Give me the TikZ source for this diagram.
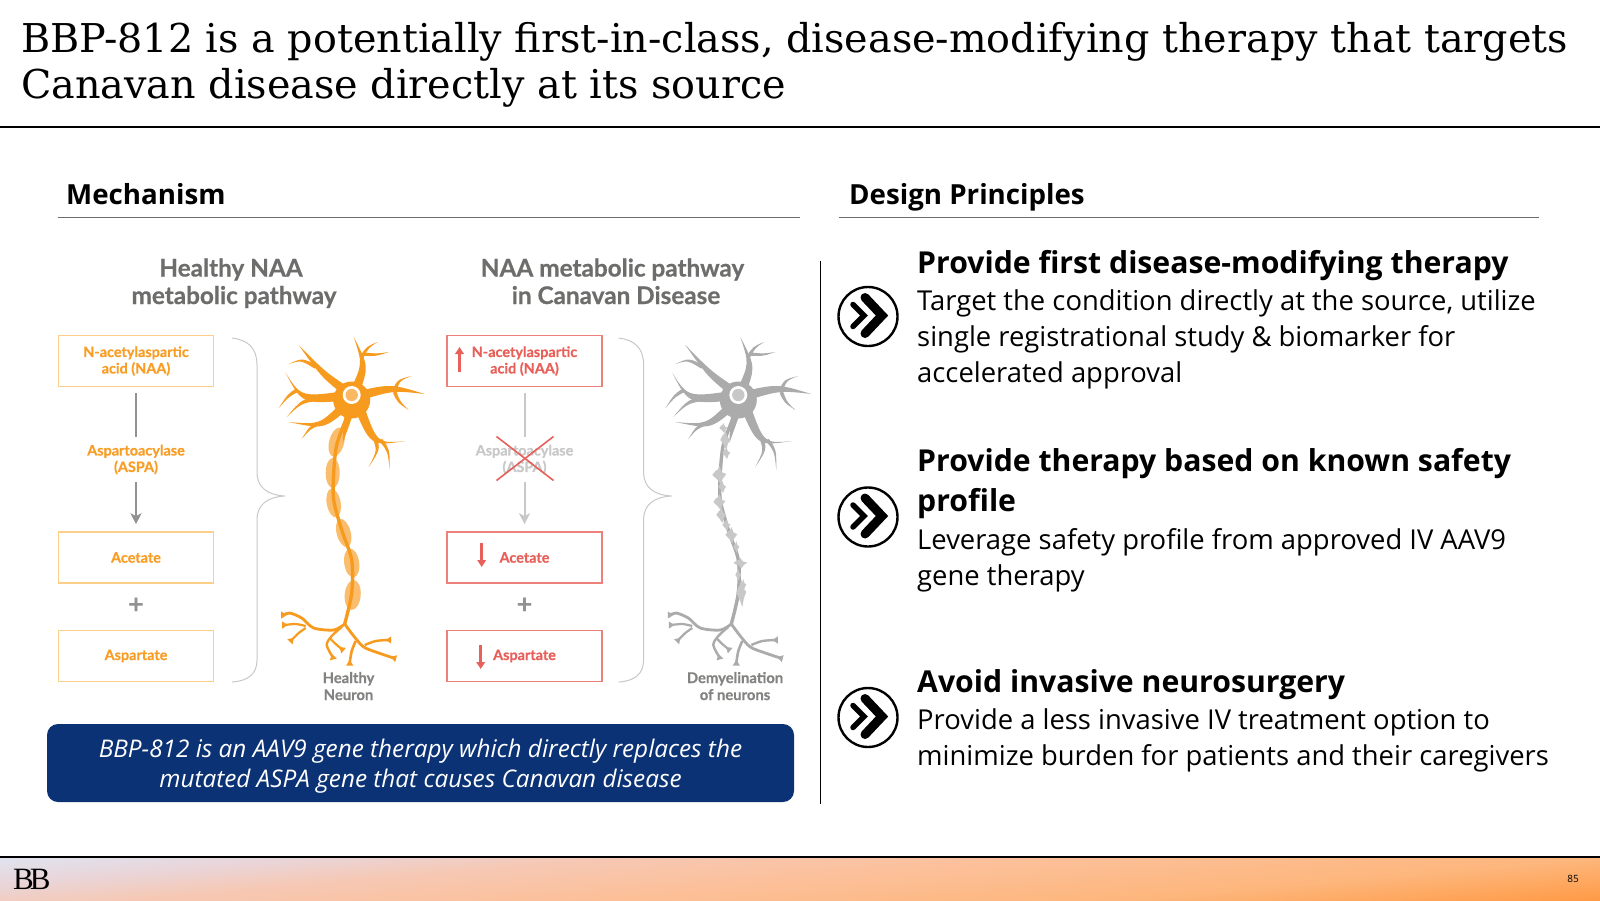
\documentclass[tikz,border=0pt]{standalone}
\usepackage{fontspec}
\usetikzlibrary{arrows.meta}
\setmainfont{Open Sans}
\newfontfamily\titlef{DejaVu Serif}
\newfontfamily\logof{Liberation Serif}
\newfontfamily\latof[BoldFeatures={FakeBold=0.6}]{Lato}
\definecolor{orng}{HTML}{F79B1F}
\definecolor{orngl}{HTML}{FCD08A}
\definecolor{orngt}{HTML}{F99D25}
\definecolor{redd}{HTML}{E8605A}
\definecolor{gtx}{HTML}{6D6D6B}
\definecolor{garr}{HTML}{929292}
\definecolor{gl}{HTML}{C8C8C8}
\definecolor{nr}{HTML}{ABABAB}
\definecolor{navy}{HTML}{0B3275}
\definecolor{g1}{HTML}{E0E3EF}
\definecolor{g2}{HTML}{E9D5D9}
\definecolor{g3}{HTML}{F6C8B4}
\definecolor{g4}{HTML}{FCC09A}
\definecolor{g5}{HTML}{FDB67C}
\definecolor{g6}{HTML}{FF9A45}
\pgfdeclarehorizontalshading{barshade}{100bp}{color(0bp)=(g1);color(47.48bp)=(g1);color(48.2bp)=(g2);color(48.94bp)=(g3);color(50bp)=(g4);color(51.36bp)=(g5);color(52.52bp)=(g6);color(100bp)=(g6)}
\newcommand\fsz[2]{\fontsize{#1}{#2}\selectfont}
\newcommand\tb[7]{%
  \pgfmathsetmacro\dxv{(#3)-(#1)}%
  \pgfmathsetmacro\dyv{(#4)-(#2)}%
  \pgfmathsetmacro\lnv{max(veclen(\dxv,\dyv),0.01)}%
  \pgfmathsetmacro\nxv{-(\dyv)/\lnv*(#7)/2}%
  \pgfmathsetmacro\nyv{(\dxv)/\lnv*(#7)/2}%
  \fill[nc] ({(#1)+(\nxv)},{(#2)+(\nyv)}) .. controls ({(#3)+0.7*(\nxv)},{(#4)+0.7*(\nyv)}) .. (#5,#6)
     .. controls ({(#3)-0.7*(\nxv)},{(#4)-0.7*(\nyv)}) .. ({(#1)-(\nxv)},{(#2)-(\nyv)}) -- cycle;}
\newcommand\jag[4]{\fill[jagc] ({#1-#3},#2) -- ({#1-0.5*#3},{#2-0.5*#4}) -- ({#1-0.2*#3},{#2-0.6*#4}) -- (#1,{#2-#4}) -- ({#1+0.4*#3},{#2-0.3*#4}) -- ({#1+#3},{#2-0.1*#4}) -- ({#1+0.5*#3},{#2+0.4*#4}) -- ({#1+0.2*#3},{#2+#4}) -- ({#1-0.3*#3},{#2+0.5*#4}) -- cycle;}
\newcommand\neuronbody[4]{%
 \colorlet{nc}{#3}\colorlet{jagc}{gl}%
 \begin{scope}[shift={(#1,#2)}]
  % up-left
  \tb{0}{0}{-28}{-20}{-53}{-50}{9.5}
  \tb{-36}{-28}{-50}{-36}{-63}{-31}{3.8}
  % up
  \tb{3}{-3}{14}{-30}{2}{-58}{9.5}
  \tb{10}{-38}{16}{-48}{26}{-53}{3.5}
  \tb{11}{-41}{25}{-40}{37}{-43}{3.5}
  % right
  \tb{3}{2}{40}{-8}{73}{-1}{10}
  \tb{42}{-3}{47}{-15}{60}{-19}{3.8}
  \tb{43}{-3}{47}{7}{57}{15}{3.8}
  % left
  \tb{0}{0}{-50}{6}{-66}{-22}{10}
  \tb{-54}{-5}{-63}{0}{-73}{13}{4}
  \tb{-30}{3}{-50}{6}{-65}{22}{5}
  % lower left
  \tb{-6}{10}{-30}{32}{-63}{27}{9}
  \tb{-34}{29}{-42}{33}{-50}{44}{3.8}
  % lower right
  \tb{6}{8}{22}{50}{54}{46}{10}
  \tb{23}{42}{27}{55}{17}{72}{4.5}
  \tb{29}{45}{37}{55}{38}{75}{3.8}
  % soma
  \fill[nc] (0,5) circle [radius=18.5];
  \tb{-2}{15}{-5}{28}{-9}{48}{9}
  % axon
  \draw[nc,line width=#4] plot[smooth] coordinates {(-6,25) (-15,50) (-18,78) (-18,105) (-10,135) (0,165) (0,198) (-7,229)};
  % terminals
  \draw[nc,line width=2.8] plot[smooth] coordinates {(-7,229) (-18,235) (-38,233) (-50,223) (-62,218) (-68,220)};
  \draw[nc,line width=2.2] plot[smooth] coordinates {(-46,231) (-56,229) (-67,230)};
  \draw[nc,line width=2.2] plot[smooth] coordinates {(-46,233) (-53,238) (-60,245)};
  \draw[nc,line width=2.4] plot[smooth] coordinates {(-10,232) (-20,241) (-25,250) (-19,262)};
  \draw[nc,line width=2.2] plot[smooth] coordinates {(-22,243) (-16,249) (-10,254)};
  \draw[nc,line width=2.8] plot[smooth] coordinates {(-7,229) (2,241) (12,252) (27,258) (42,263)};
  \draw[nc,line width=2.4] plot[smooth] coordinates {(13,250) (24,246) (37,245)};
  \draw[nc,line width=2.6] plot[smooth] coordinates {(4,246) (0,256) (-2,268)};
  \foreach \px/\py/\pr in {-68/220/180,-67/230/180,-60/245/225,-19/262/-75,-10/254/-40,42/263/-15,37/245/0,-2/268/-90}{
    \fill[nc,shift={(\px,\py)},rotate=\pr] (-3,0) -- (2.5,-3.6) -- (2.5,3.6) -- cycle;}
  \fill[white] (0,0) circle [radius=9];
 \end{scope}}
\tikzset{
 hrule/.style={draw=#1,line width=1.4pt},
 sect/.style={anchor=base west,inner sep=0pt,font=\bfseries\fsz{27.7}{30}},
 subhead/.style={anchor=base,align=center,inner sep=0pt,text=gtx,font=\latof\bfseries\fsz{24.3}{27.5}},
 boxy/.style={draw=#1,line width=1.6pt,fill=white,minimum width=155pt,minimum height=51pt,inner sep=0pt,align=center,font=\latof\bfseries\fsz{14.4}{16.5}},
 enzyme/.style={inner sep=0pt,minimum width=110pt,minimum height=45pt,align=center,font=\latof\bfseries\fsz{14.4}{16.5}},
 plusn/.style={inner sep=0pt,text=garr,font=\latof\bfseries\fsz{27}{27}},
 ncap/.style={inner sep=0pt,text=gtx!85,anchor=base,align=center,font=\latof\bfseries\fsz{14.8}{17}},
 bracec/.style={draw=gl,line width=1pt},
 redar/.style={redd,line width=3pt,-{Triangle[width=8.5pt,length=7pt]}},
 phead/.style={anchor=base west,align=left,inner sep=0pt,font=\bfseries\fsz{30.2}{39.5}},
 pbody/.style={anchor=base west,align=left,inner sep=0pt,font=\fsz{27.4}{36}},
 ring/.style={circle,draw=black,fill=white,line width=2.4pt,minimum size=59pt,inner sep=0pt},
 chevb/.style={black,line width=9pt,line cap=round,miter limit=10},
 chevs/.style={black,line width=5.5pt,line cap=round,miter limit=10},
}
\begin{document}
\begin{tikzpicture}[x=1pt,y=-1pt]
\useasboundingbox (0,0) rectangle (1600,900);
\fill[white] (0,0) rectangle (1600,900);
% title
\node[anchor=base west,inner sep=0pt,align=left,font=\titlef\fsz{39.7}{46}] (title) at (21,98.5) {BBP-812 is a potentially first-in-class, disease-modifying therapy that targets\\Canavan disease directly at its source};
\draw[hrule=black] (0,127) -- (1600,127);
% sections
\node[sect] (mech) at (66,204) {Mechanism};
\node[sect] (desg) at (849,204) {Design Principles};
\draw[hrule=gtx] (58,217.5) -- (800,217.5);
\draw[hrule=gtx] (839,217.5) -- (1539,217.5);
\draw[black,line width=1.6pt] (820.5,261) -- (820.5,804);
% sub heads
\node[subhead] (hh) at (234,304) {Healthy NAA\kern6pt\\metabolic pathway};
\node[subhead] (dh) at (612.5,304) {NAA metabolic pathway\\\kern7pt in Canavan Disease};
% left pathway
\node[boxy=orngl,text=orngt] (naa) at (136,361) {N-acetylaspartic\\acid (NAA)};
\node[enzyme,text=orngt] (aspa) at (136,459.5) {Aspartoacylase\\(ASPA)};
\node[boxy=orngl,text=orngt] (ace) at (136,557.5) {Acetate};
\node[plusn] (plus) at (136,605.5) {+};
\node[boxy=orngl,text=orngt] (asp) at (136,656) {Aspartate};
\draw[garr,line width=2pt,shorten <=6pt] (naa) -- (aspa);
\draw[garr,line width=2pt,shorten >=7pt,-{Stealth[width=11pt,length=11pt,inset=3pt]}] (aspa) -- (ace);
% right pathway
\node[boxy=redd!80,text=redd] (naar) at (524.5,361) {N-acetylaspartic\\acid (NAA)};
\node[enzyme,text=gl] (aspar) at (524.5,459.5) {Aspartoacylase\\(ASPA)};
\node[boxy=redd!80,text=redd] (acer) at (524.5,557.5) {Acetate};
\node[plusn] (plusr) at (524.5,605.5) {+};
\node[boxy=redd!80,text=redd] (aspr) at (524.5,656) {Aspartate};
\draw[gl,line width=2pt,shorten <=6pt] (naar) -- (aspar);
\draw[gl,line width=2pt,shorten >=7pt,-{Stealth[width=11pt,length=11pt,inset=3pt]}] (aspar) -- (acer);
\draw[redd,line width=1.6pt] (aspar.center) ++(-28,-23) -- ++(57,44);
\draw[redd,line width=1.6pt] (aspar.center) ++(29,-23) -- ++(-57,44);
\coordinate (u1) at (459.5,372); \coordinate (u2) at (459.5,347);
\draw[redar] (u1) -- (u2);
\coordinate (d1) at (481.7,543); \coordinate (d2) at (481.7,567);
\draw[redar] (d1) -- (d2);
\coordinate (e1) at (480.7,645); \coordinate (e2) at (480.7,669);
\draw[redar] (e1) -- (e2);
% braces
\foreach \bx in {0,386.6}{
 \draw[bracec,xshift=\bx] (232,338) .. controls (248,340) and (257,348) .. (257,365) -- (257,472) .. controls (257,488) and (268,495) .. (285,496) .. controls (268,497) and (257,504) .. (257,520) -- (257,660) .. controls (257,674) and (248,681) .. (232,682);
}
% neurons
\neuronbody{351.7}{395}{orng}{3.4}
\foreach \mx/\my/\mr/\rx/\ry in {-15/47/-15/7.5/15,-19/78/0/7/15,-18/108/10/7/14.5,-8/138/15/7/14.5,0/168/8/7.5/14.5,1/200/-5/8/15}{
 \fill[orng,opacity=.65,shift={(351.7+\mx,395+\my)},rotate=\mr] (0,0) ellipse [x radius=\rx,y radius=\ry];
}
\fill[orng!70!white] (351.7,395) circle [radius=6.2];
\neuronbody{738.3}{395}{nr}{3.4}
\begin{scope}[shift={(738.3,395)}]
 \jag{-13}{45}{5}{10}\jag{-15}{33}{4}{5}\jag{-12}{58}{4}{6}\jag{-19}{80}{7}{9}\jag{-16}{92}{4}{6}\jag{-19}{107}{6}{8}\jag{-17}{120}{5}{8}\jag{-12}{130}{4}{6}\jag{-7}{140}{6}{8}\jag{-2}{152}{3}{6}\jag{2}{168}{7}{5}\jag{0}{180}{3}{6}\jag{3}{198}{5}{14}\jag{5}{190}{3}{6}
\end{scope}
\fill[gl] (738.3,395) circle [radius=6.2];
\node[ncap] (cap1) at (348.5,700) {Healthy\\Neuron};
\node[ncap] (cap2) at (735,700) {Demyelination\\of neurons};
% banner
\node[draw=none,fill=navy,rounded corners=11pt,minimum width=747pt,minimum height=78pt,inner sep=0pt,align=center,text=white,font=\itshape\fsz{24.3}{30}] (banner) at (420.5,763) {\rule{0pt}{24pt}BBP-812 is an AAV9 gene therapy which directly replaces the\\mutated ASPA gene that causes Canavan disease};
% icons
\foreach \n/\iy in {a/316.5,b/517,c/717.5}{
 \node[ring] (ic\n) at (868,\iy) {};
 \draw[chevb] ([shift={(-3,-19)}]ic\n.center) -- ([shift={(14,-1)}]ic\n.center) -- ([shift={(-3,17)}]ic\n.center);
 \draw[chevs] ([shift={(-15,-12)}]ic\n.center) -- ([shift={(-4,-1)}]ic\n.center) -- ([shift={(-15,10)}]ic\n.center);
}
% design text
\node[phead] (p1h) at (917,273) {Provide first disease-modifying therapy};
\node[pbody] (p1b) at (917,382) {Target the condition directly at the source, utilize\\single registrational study \& biomarker for\\accelerated approval};
\node[phead] (p2h) at (917,511) {Provide therapy based on known safety\\profile};
\node[pbody] (p2b) at (917,585) {Leverage safety profile from approved IV AAV9\\gene therapy};
\node[phead] (p3h) at (917,692.5) {Avoid invasive neurosurgery};
\node[pbody] (p3b) at (917,765.5) {Provide a less invasive IV treatment option to\\minimize burden for patients and their caregivers};
% footer
\begin{scope}
 \clip (0,858) rectangle (1600,900);
 \shade[shading=barshade,shading angle=-85] (-100,-21) rectangle (1700,1779);
\end{scope}
\draw[black,line width=1.8pt] (0,857) -- (1600,857);
\node[anchor=base west,inner sep=0pt,font=\logof\fsz{31}{31}] (logo) at (13,889) {B\kern-4pt B};
\node[inner sep=0pt,font=\fsz{10}{10}] (pg) at (1573,879) {85};
\end{tikzpicture}
\end{document}
